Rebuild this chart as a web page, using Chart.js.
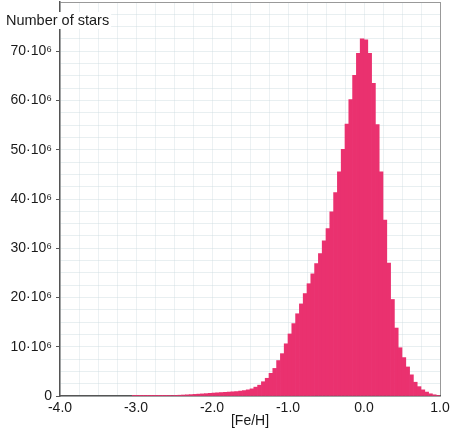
<!DOCTYPE html>
<html>
<head>
<meta charset="utf-8">
<script src="https://cdn.jsdelivr.net/npm/chart.js@4/dist/chart.umd.min.js"></script>
<style>
  html, body { margin: 0; padding: 0; background: #fff; }
  #wrap { position: relative; width: 458px; height: 436px; }
</style>
</head>
<body>
<div id="wrap"><canvas id="c" width="458" height="436"></canvas></div>
<script>
// Bin centres of the [Fe/H] histogram (dex)
const feH = [
  -3.025, -2.975, -2.925, -2.875, -2.825, -2.775, -2.725, -2.675, -2.625, -2.575,
  -2.525, -2.475, -2.425, -2.375, -2.325, -2.275, -2.225, -2.175, -2.125, -2.075,
  -2.025, -1.975, -1.925, -1.875, -1.825, -1.775, -1.725, -1.675, -1.625, -1.575,
  -1.525, -1.475, -1.425, -1.375, -1.325, -1.275, -1.225, -1.175, -1.125, -1.075,
  -1.025, -0.975, -0.925, -0.875, -0.825, -0.775, -0.725, -0.675, -0.625, -0.575,
  -0.525, -0.475, -0.425, -0.375, -0.325, -0.275, -0.225, -0.175, -0.125, -0.075,
  -0.025, 0.025, 0.075, 0.125, 0.175, 0.225, 0.275, 0.325, 0.375, 0.425,
  0.475, 0.525, 0.575, 0.625, 0.675, 0.725, 0.775, 0.825, 0.875, 0.925,
  0.975
];
// Number of stars per bin, in units of 10^6
const starsMillions = [
  0.01, 0.01, 0.02, 0.02, 0.03, 0.03, 0.04, 0.05, 0.06, 0.08,
  0.10, 0.13, 0.16, 0.20, 0.24, 0.28, 0.33, 0.38, 0.43, 0.48,
  0.54, 0.60, 0.65, 0.70, 0.75, 0.80, 0.85, 0.90, 1.00, 1.10,
  1.25, 1.45, 1.8, 2.2, 2.9, 3.6, 4.6, 5.6, 7.2, 8.6,
  10.6, 12.6, 14.7, 16.7, 18.7, 20.8, 22.8, 24.8, 26.9, 28.9,
  31.5, 34.0, 37.4, 41.3, 45.5, 50.1, 55.2, 60.2, 65.1, 69.6,
  72.5, 72.3, 69.6, 63.5, 55.1, 45.5, 35.7, 27.0, 19.6, 13.8,
  9.8, 7.8, 5.9, 4.3, 2.8, 1.9, 1.25, 0.8, 0.45, 0.25,
  0.12
];
// Tick labels
const xTickValues = [-4, -3, -2, -1, 0, 1];
const xTickLabels = ['-4.0', '-3.0', '-2.0', '-1.0', '0.0', '1.0'];
const yTickValues = [0, 10, 20, 30, 40, 50, 60, 70];
const yTickLabels = ['0', '10·10⁶', '20·10⁶', '30·10⁶', '40·10⁶', '50·10⁶', '60·10⁶', '70·10⁶'];
const yAxisTitle = 'Number of stars';
const xAxisTitle = '[Fe/H]';

const FONT = "'Liberation Sans', Arial, sans-serif";
const near = (a, b) => Math.abs(a - b) < 1e-6;
const labelFor = (vals, labels, v) => {
  const i = vals.findIndex(t => near(t, v));
  return i >= 0 ? labels[i] : '';
};

const titlePlugin = {
  id: 'cornerTitle',
  afterDraw(chart) {
    const ctx = chart.ctx;
    ctx.save();
    ctx.font = '14.5px ' + FONT;
    const w = ctx.measureText(yAxisTitle).width;
    ctx.fillStyle = '#ffffff';
    ctx.fillRect(4, 12, w + 4, 17);
    ctx.fillStyle = '#1a1a1a';
    ctx.textBaseline = 'alphabetic';
    ctx.textAlign = 'left';
    ctx.fillText(yAxisTitle, 6, 25);
    ctx.restore();
  }
};

new Chart(document.getElementById('c'), {
  type: 'bar',
  data: {
    datasets: [{
      data: feH.map((x, i) => ({ x: x, y: starsMillions[i] })),
      backgroundColor: '#ea316f',
      borderWidth: 0,
      barPercentage: 1.0,
      categoryPercentage: 1.0
    }]
  },
  options: {
    responsive: false,
    animation: false,
    devicePixelRatio: 1,
    layout: { padding: { top: 2, right: 18, left: 0, bottom: 0 } },
    plugins: { legend: { display: false }, tooltip: { enabled: false } },
    scales: {
      x: {
        type: 'linear',
        min: -4, max: 1,
        offset: false,
        z: 1,
        afterFit: s => { s.height = 40; s.paddingLeft = 0; s.paddingRight = 0; },
        border: { display: true, color: '#555', width: 1.5 },
        grid: {
          offset: false,
          drawTicks: false,
          color: c => near(c.tick.value, 1) ? '#999' : 'rgba(200,215,220,0.35)',
          lineWidth: 1
        },
        ticks: {
          stepSize: 0.25,
          autoSkip: false,
          maxRotation: 0,
          padding: 4,
          color: '#1a1a1a',
          font: { family: FONT, size: 14 },
          callback: v => labelFor(xTickValues, xTickLabels, v)
        },
        title: {
          display: true,
          text: xAxisTitle,
          color: '#1a1a1a',
          font: { family: FONT, size: 14 },
          padding: { top: 0, bottom: 6 }
        }
      },
      y: {
        min: 0, max: 80,
        afterFit: s => { s.width = 60; s.paddingTop = 0; s.paddingBottom = 0; },
        border: { display: true, color: '#555', width: 1.5 },
        grid: {
          drawTicks: true,
          tickLength: 4,
          color: c => near(c.tick.value, 80) ? '#999' : 'rgba(205,220,224,0.45)',
          tickColor: c => (c.tick.value % 10 === 0 && c.tick.value < 80) ? '#555' : 'rgba(0,0,0,0)',
          lineWidth: 1
        },
        ticks: {
          stepSize: 2.5,
          autoSkip: false,
          padding: 4,
          color: '#1a1a1a',
          font: { family: FONT, size: 14 },
          callback: v => labelFor(yTickValues, yTickLabels, v)
        }
      }
    }
  },
  plugins: [titlePlugin]
});
</script>
</body>
</html>
